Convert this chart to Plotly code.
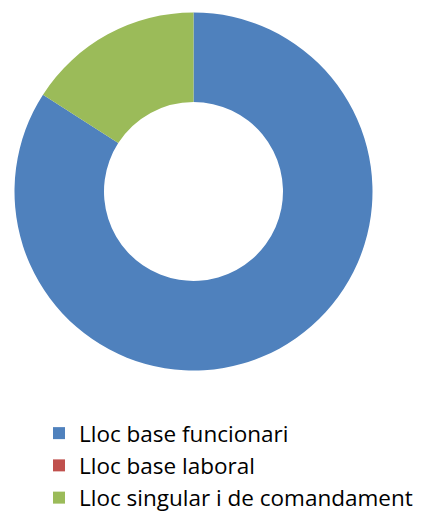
import plotly.graph_objects as go

labels = ["Lloc base funcionari", "Lloc base laboral", "Lloc singular i de comandament"]
values = [84.1, 0, 15.9]
colors = ["#4F81BD", "#C0504D", "#9BBB59"]

# the page body has an 8px margin, so the figure is 8px smaller and offsets are shifted
W, H = 418, 504
fig = go.Figure(go.Pie(
    labels=labels, values=values, hole=0.5, sort=False,
    direction="clockwise", rotation=0,
    marker=dict(colors=colors, line=dict(width=0)),
    textinfo="none", hoverinfo="label+percent",
    domain=dict(x=[6.5 / W, 364.5 / W], y=[1 - 362.5 / H, 1 - 4.5 / H]),
))
fig.update_layout(
    width=W, height=H, margin=dict(l=0, r=0, t=0, b=0, autoexpand=False),
    paper_bgcolor="white", plot_bgcolor="white",
    showlegend=True,
    legend=dict(x=31 / W, y=1 - 404 / H, xanchor="left", yanchor="top",
                font=dict(family="Open Sans", size=22.5, color="#000000"),
                itemwidth=30, bgcolor="rgba(0,0,0,0)"),
)
fig.write_html("out.html")
